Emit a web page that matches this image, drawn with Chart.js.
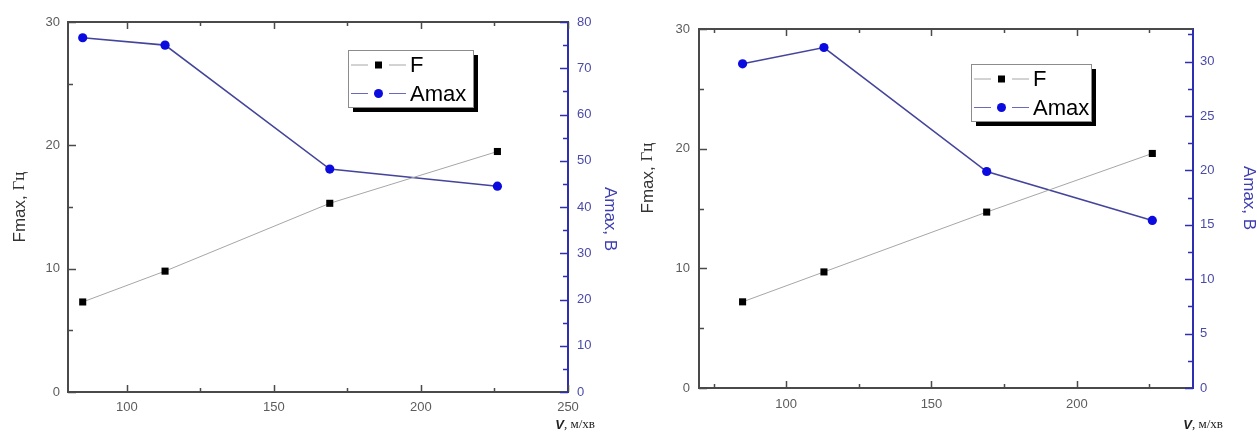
<!DOCTYPE html>
<html>
<head>
<meta charset="utf-8">
<script src="https://cdn.jsdelivr.net/npm/chart.js@4.4.1/dist/chart.umd.min.js"></script>
<style>
    html, body { margin: 0; padding: 0; background: #fff; }
    #wrap { position: relative; width: 1257px; height: 439px; overflow: hidden; }
    canvas { position: absolute; top: 0; }
    #c1 { left: 0; }
    #c2 { left: 630px; }
</style>
</head>
<body>
<div id="wrap">
    <canvas id="c1" width="630" height="439"></canvas>
    <canvas id="c2" width="627" height="439"></canvas>
</div>
<script>
// ===================== Dados =====================
const V_SPEED = [85, 113, 169, 226];              // V, м/хв
const F_LEFT = [7.3, 9.8, 15.3, 19.5];            // Fmax, Гц (gráfico 1)
const AMAX_LEFT = [76.6, 75.0, 48.2, 44.5];       // Amax, В (gráfico 1)
const F_RIGHT = [7.2, 9.7, 14.7, 19.6];           // Fmax, Гц (gráfico 2)
const AMAX_RIGHT = [29.8, 31.3, 19.9, 15.4];      // Amax, В (gráfico 2)

const X_TICKS_LEFT = [100, 150, 200, 250];
const X_MINOR_LEFT = [125, 175, 225];
const X_TICKS_RIGHT = [100, 150, 200];
const X_MINOR_RIGHT = [75, 125, 175, 225];
const F_TICKS = [0, 10, 20, 30];
const F_MINOR = [5, 15, 25];
const AMAX_TICKS_LEFT = [0, 10, 20, 30, 40, 50, 60, 70, 80];
const AMAX_MINOR_LEFT = [5, 15, 25, 35, 45, 55, 65, 75];
const AMAX_TICKS_RIGHT = [0, 5, 10, 15, 20, 25, 30];
const AMAX_MINOR_RIGHT = [2.5, 7.5, 12.5, 17.5, 22.5, 27.5, 32.5];

const SERIES_NAMES = ["F", "Amax"];

// ===================== Estilos =====================
const SANS = "'Liberation Sans', Arial, sans-serif";
const SERIF = "'Liberation Serif', 'Times New Roman', serif";
const AXIS_GREY = "#4a4a4a";
const TICK_TEXT = "#5c5c5c";
const BLUE_AXIS = "#2e2eb0";
const BLUE_TEXT = "#4a4aa8";
const F_LINE = "#a6a6a6";
const A_LINE = "#44449c";
const A_POINT = "#0b0be0";

// ===================== Helpers =====================
function drawRich(ctx, parts, x, y, angle, align) {
    ctx.save();
    ctx.translate(x, y);
    ctx.rotate(angle);
    ctx.textBaseline = "middle";
    ctx.textAlign = "left";
    const widths = parts.map(p => { ctx.font = p.font; return ctx.measureText(p.text).width; });
    const total = widths.reduce((a, b) => a + b, 0);
    let cx = align === "right" ? -total : -total / 2;
    parts.forEach((p, i) => {
        ctx.font = p.font;
        ctx.fillStyle = p.color;
        ctx.fillText(p.text, cx, 0);
        cx += widths[i];
    });
    ctx.restore();
}

function seg(ctx, x1, y1, x2, y2) {
    ctx.beginPath();
    ctx.moveTo(x1, y1);
    ctx.lineTo(x2, y2);
    ctx.stroke();
}

function drawLegend(ctx, lg) {
    const { x, y, w, h } = lg;
    ctx.save();
    ctx.fillStyle = "#000";
    ctx.fillRect(x + 5, y + 5, w, h);
    ctx.fillStyle = "#fff";
    ctx.fillRect(x, y, w, h);
    ctx.strokeStyle = "#8c8c8c";
    ctx.lineWidth = 1;
    ctx.strokeRect(x + 0.5, y + 0.5, w, h);

    SERIES_NAMES.forEach((name, i) => {
        const ry = y + 15 + i * 28.5;
        ctx.strokeStyle = i === 0 ? F_LINE : "#6a6ab8";
        ctx.lineWidth = 1;
        seg(ctx, x + 3, ry, x + 20, ry);
        seg(ctx, x + 41, ry, x + 58, ry);
        if (i === 0) {
            ctx.fillStyle = "#000";
            ctx.fillRect(x + 27, ry - 3.5, 7, 7);
        } else {
            ctx.fillStyle = A_POINT;
            ctx.beginPath();
            ctx.arc(x + 30.5, ry, 4.5, 0, Math.PI * 2);
            ctx.fill();
        }
        ctx.fillStyle = "#000";
        ctx.font = "22px " + SANS;
        ctx.textBaseline = "middle";
        ctx.textAlign = "left";
        ctx.fillText(name, x + 62, ry + 1);
    });
    ctx.restore();
}

// moldura, ticks para dentro, legenda e títulos
function decorPlugin(cfg) {
    return {
        id: "decor",
        afterDraw(chart) {
            const ctx = chart.ctx;
            const { left, right, top, bottom } = chart.chartArea;
            const sx = chart.scales.x, sy = chart.scales.y, sy1 = chart.scales.y1;

            ctx.save();
            // linha superior
            ctx.strokeStyle = AXIS_GREY;
            ctx.lineWidth = 2;
            seg(ctx, left - 1, top, right, top);

            // ticks X (baixo e cima)
            ctx.lineWidth = 1.5;
            const xt = (vals, len) => vals.forEach(v => {
                const px = Math.round(sx.getPixelForValue(v)) + 0.5;
                seg(ctx, px, bottom, px, bottom - len);
                seg(ctx, px, top, px, top + len);
            });
            xt(cfg.xTicks, 7);
            xt(cfg.xMinor, 4);

            // ticks Y esquerda
            const yt = (vals, len) => vals.forEach(v => {
                const py = Math.round(sy.getPixelForValue(v)) + 0.5;
                seg(ctx, left, py, left + len, py);
            });
            yt(F_TICKS, 8);
            yt(F_MINOR, 5);

            // ticks Y direita (azul)
            ctx.strokeStyle = BLUE_AXIS;
            const y1t = (vals, len) => vals.forEach(v => {
                const py = Math.round(sy1.getPixelForValue(v)) + 0.5;
                seg(ctx, right, py, right - len, py);
            });
            y1t(cfg.aTicks, 8);
            y1t(cfg.aMinor, 5);
            ctx.restore();

            drawLegend(ctx, cfg.legend);

            drawRich(ctx, [
                { text: "Fmax, ", font: "17px " + SANS, color: "#333" },
                { text: "Гц", font: "17px " + SERIF, color: "#333" }
            ], cfg.yTitle.x, cfg.yTitle.y, -Math.PI / 2, "center");

            drawRich(ctx, [
                { text: "Amax, ", font: "17px " + SANS, color: "#3c3cb0" },
                { text: "В", font: "17px " + SANS, color: "#3c3cb0" }
            ], cfg.y1Title.x, cfg.y1Title.y, Math.PI / 2, "center");

            drawRich(ctx, [
                { text: "V", font: "italic bold 13px " + SANS, color: "#222" },
                { text: ", м/хв", font: "13px " + SERIF, color: "#222" }
            ], cfg.xTitle.x, cfg.xTitle.y, 0, "right");
        }
    };
}

function makeChart(cfg) {
    const ctx = document.getElementById(cfg.canvas).getContext("2d");
    const fixTicks = (vals) => (scale) => { scale.ticks = vals.map(v => ({ value: v })); };
    const tickFont = { family: SANS, size: 13 };

    return new Chart(ctx, {
        type: "line",
        data: {
            datasets: [
                {
                    label: SERIES_NAMES[0],
                    data: V_SPEED.map((v, i) => ({ x: v, y: cfg.F[i] })),
                    yAxisID: "y",
                    borderColor: F_LINE,
                    borderWidth: 1,
                    pointStyle: "rect",
                    pointRadius: 5,
                    pointBackgroundColor: "#000",
                    pointBorderWidth: 0,
                    tension: 0
                },
                {
                    label: SERIES_NAMES[1],
                    data: V_SPEED.map((v, i) => ({ x: v, y: cfg.A[i] })),
                    yAxisID: "y1",
                    borderColor: A_LINE,
                    borderWidth: 1.6,
                    pointStyle: "circle",
                    pointRadius: 4.6,
                    pointBackgroundColor: A_POINT,
                    pointBorderWidth: 0,
                    tension: 0
                }
            ]
        },
        options: {
            responsive: false,
            animation: false,
            events: [],
            layout: { padding: { top: cfg.area.top, left: 0, right: 0, bottom: 0 } },
            plugins: { legend: { display: false }, tooltip: { enabled: false } },
            scales: {
                x: {
                    type: "linear",
                    min: cfg.xMin,
                    max: cfg.xMax,
                    afterBuildTicks: fixTicks(cfg.xTicks),
                    afterFit: (s) => { s.height = cfg.height - cfg.area.bottom; },
                    grid: { display: false, drawTicks: false },
                    border: { display: true, color: AXIS_GREY, width: 2 },
                    ticks: { font: tickFont, color: TICK_TEXT, padding: cfg.xPad, maxRotation: 0 }
                },
                y: {
                    type: "linear",
                    position: "left",
                    min: 0,
                    max: 30,
                    afterBuildTicks: fixTicks(F_TICKS),
                    afterFit: (s) => { s.width = cfg.area.left; },
                    grid: { display: false, drawTicks: false },
                    border: { display: true, color: AXIS_GREY, width: 2 },
                    ticks: { font: tickFont, color: TICK_TEXT, padding: cfg.yPad }
                },
                y1: {
                    type: "linear",
                    position: "right",
                    min: 0,
                    max: cfg.aMax,
                    afterBuildTicks: fixTicks(cfg.aTicks),
                    afterFit: (s) => { s.width = cfg.width - cfg.area.right; },
                    grid: { display: false, drawTicks: false },
                    border: { display: true, color: BLUE_AXIS, width: 2 },
                    ticks: { font: tickFont, color: BLUE_TEXT, padding: cfg.y1Pad }
                }
            }
        },
        plugins: [decorPlugin(cfg)]
    });
}

// ===================== Gráficos =====================
makeChart({
    canvas: "c1", width: 630, height: 439,
    area: { left: 68, right: 568, top: 22, bottom: 392 },
    xMin: 80, xMax: 250, xTicks: X_TICKS_LEFT, xMinor: X_MINOR_LEFT,
    aMax: 80, aTicks: AMAX_TICKS_LEFT, aMinor: AMAX_MINOR_LEFT,
    F: F_LEFT, A: AMAX_LEFT,
    xPad: 8, yPad: 8, y1Pad: 9,
    legend: { x: 348, y: 50, w: 125, h: 57 },
    yTitle: { x: 20, y: 207 },
    y1Title: { x: 610, y: 219 },
    xTitle: { x: 595, y: 425 }
});

makeChart({
    canvas: "c2", width: 627, height: 439,
    area: { left: 69, right: 563, top: 29, bottom: 388 },
    xMin: 70, xMax: 240, xTicks: X_TICKS_RIGHT, xMinor: X_MINOR_RIGHT,
    aMax: 33, aTicks: AMAX_TICKS_RIGHT, aMinor: AMAX_MINOR_RIGHT,
    F: F_RIGHT, A: AMAX_RIGHT,
    xPad: 9, yPad: 9, y1Pad: 7,
    legend: { x: 341, y: 64, w: 120, h: 57 },
    yTitle: { x: 18, y: 178 },
    y1Title: { x: 619, y: 198 },
    xTitle: { x: 593, y: 425 }
});
</script>
</body>
</html>
